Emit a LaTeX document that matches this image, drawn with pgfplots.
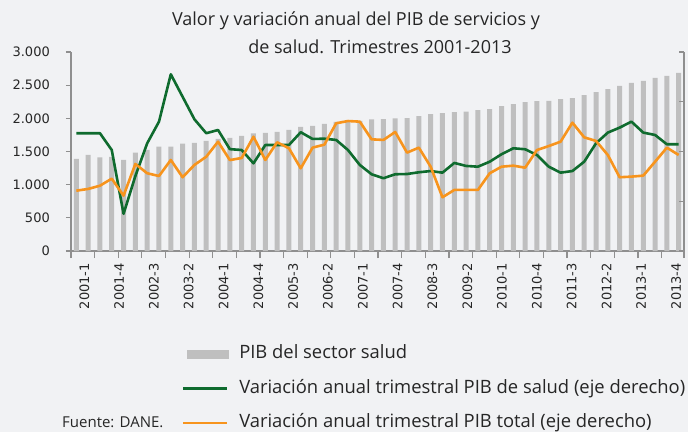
\documentclass[border=0pt]{standalone}
\usepackage{pgfplots}
\usepackage{pgfplotstable}
\pgfplotsset{compat=1.18}
\usepackage{fontspec}
\setmainfont{Open Sans}
\newfontfamily\tickfont{DejaVu Sans}
\definecolor{bg}{HTML}{F1F2F4}
\definecolor{bargray}{HTML}{BFBFBF}
\definecolor{dgreen}{HTML}{0F6B2E}
\definecolor{orng}{HTML}{F7941D}
\definecolor{axgray}{HTML}{8F8F8F}
\definecolor{txt}{HTML}{262626}
\pgfplotsset{
  linelegend/.style={legend image code/.code={\draw[##1] (0pt,0pt) -- (44pt,0pt);}},
  barlegend/.style={legend image code/.code={\fill[bargray] (4pt,-4.5pt) rectangle (46pt,4.5pt);}},
}
\pgfplotstableread{
i b g o
0 1390 5.47 0.85
1 1450 5.47 0.99
2 1410 5.47 1.25
3 1420 4.12 1.82
4 1375 -1.01 0.45
5 1485 2.03 3.00
6 1525 4.66 2.25
7 1575 6.40 2.03
8 1575 10.21 3.32
9 1620 8.40 1.93
10 1630 6.59 2.92
11 1660 5.47 3.58
12 1690 5.73 4.79
13 1705 4.19 3.31
14 1735 4.12 3.48
15 1775 3.05 5.19
16 1780 4.52 3.32
17 1795 4.52 4.74
18 1825 4.52 4.26
19 1870 5.55 2.65
20 1885 5.01 4.31
21 1915 5.03 4.55
22 1945 4.93 6.27
23 1960 4.12 6.45
24 1960 2.92 6.40
25 1985 2.17 4.98
26 1990 1.85 4.93
27 2000 2.17 5.57
28 2005 2.19 3.91
29 2035 2.33 4.31
30 2065 2.43 2.78
31 2080 2.30 0.32
32 2095 3.08 0.91
33 2100 2.84 0.91
34 2125 2.78 0.91
35 2140 3.18 2.25
36 2185 3.78 2.78
37 2215 4.26 2.86
38 2245 4.18 2.70
39 2260 3.72 4.12
40 2265 2.78 4.44
41 2290 2.30 4.79
42 2305 2.43 6.32
43 2350 3.18 5.14
44 2395 4.66 4.85
45 2440 5.52 3.72
46 2490 5.92 1.93
47 2535 6.40 1.98
48 2565 5.52 2.06
49 2610 5.33 3.18
50 2640 4.58 4.31
51 2685 4.58 3.72
}\data
\begin{document}
\begin{tikzpicture}
\fill[bg] (0pt,0pt) rectangle (688pt,-432pt);
\useasboundingbox (0pt,0pt) rectangle (688pt,-432pt);
\node[text=txt, font=\fontsize{18}{21}\selectfont] at (356pt,-21pt) {Valor y variación anual del PIB de servicios y};
\node[text=txt, font=\fontsize{18}{21}\selectfont] at (380pt,-47pt) {de salud. Trimestres 2001-2013};
\node[text=txt, anchor=base west, inner sep=0pt, font=\fontsize{15}{17}\selectfont] at (62pt,-427pt) {Fuente: DANE.};
\begin{axis}[
  at={(71pt,-251pt)}, anchor=south west,
  scale only axis, width=613pt, height=199pt,
  xmin=-0.45, xmax=51.45, ymin=0, ymax=3000,
  axis x line*=bottom, axis y line*=left,
  axis line style={axgray, line width=1.4pt},
  ytick={0,500,...,3000},
  y tick style={axgray, line width=1.2pt},
  ytick align=outside, major tick length=5pt,
  yticklabel style={text=txt, font=\tickfont\fontsize{13}{15}\selectfont, inner sep=0pt},
  yticklabel shift=16pt,
  /pgf/number format/.cd, 1000 sep={.}, assume math mode=true, /pgfplots/.cd,
  xtick={0.68,3.63,6.57,9.52,12.47,15.42,18.36,21.31,24.26,27.20,30.15,33.10,36.04,38.99,41.94,44.89,47.83,50.78},
  xticklabels={2001-1,2001-4,2002-3,2003-2,2004-1,2004-4,2005-3,2006-2,2007-1,2007-4,2008-3,2009-2,2010-1,2010-4,2011-3,2012-2,2013-1,2013-4},
  x tick style={draw=none},
  xticklabel style={rotate=90, anchor=east, inner sep=0pt, text=txt, font=\tickfont\fontsize{13}{15}\selectfont},
  xticklabel shift=12pt,
  extra x ticks={-0.45,1.55,3.55,5.55,7.55,9.55,11.55,13.55,15.55,17.55,19.55,21.55,23.55,25.55,27.55,29.55,31.55,33.55,35.55,37.55,39.55,41.55,43.55,45.55,47.55,49.55,51.45},
  extra x tick labels={},
  extra x tick style={x tick style={axgray, line width=1.2pt, draw=axgray}, xtick align=outside, major tick length=7pt},
  legend style={at={(0.181,-0.475)}, anchor=north west, draw=none, fill=none,
    inner sep=0pt, outer sep=0pt,
    nodes={inner sep=0pt, text height=13pt, text depth=4pt, text=txt, font=\fontsize{18.4}{20}\selectfont},
    row sep=17.5pt, column sep=10pt},
  legend cell align=left,
  clip=false,
]
\addplot[ybar, bar width=5pt, fill=bargray, draw=none, barlegend] table[x=i, y=b]{\data};
\addlegendentry{PIB del sector salud}
\addlegendimage{dgreen, line width=2.6pt, linelegend}
\addlegendentry{Variación anual trimestral PIB de salud (eje derecho)}
\addlegendimage{orng, line width=2.6pt, linelegend}
\addlegendentry{Variación anual trimestral PIB total (eje derecho)}
\end{axis}
\begin{axis}[
  at={(71pt,-251pt)}, anchor=south west,
  scale only axis, width=613pt, height=199pt,
  xmin=-0.45, xmax=51.45, ymin=-4, ymax=12,
  axis x line=none, axis y line*=right,
  axis line style={axgray, line width=1.4pt},
  ytick={-4,0,4,8,12}, yticklabels={},
  y tick style={axgray, line width=1.2pt},
  ytick align=inside, major tick length=5pt,
]
\addplot[dgreen, line width=2.6pt, line join=round] table[x=i, y=g]{\data};
\addplot[orng, line width=2.6pt, line join=round] table[x=i, y=o]{\data};
\end{axis}
\end{tikzpicture}
\end{document}
